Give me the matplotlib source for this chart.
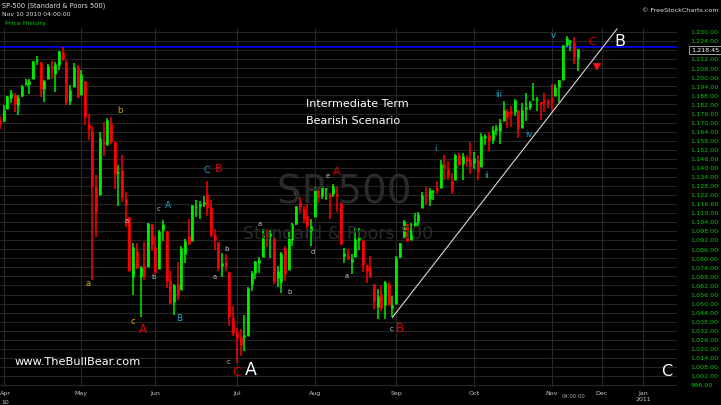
import matplotlib
matplotlib.use('Agg')
import matplotlib.pyplot as plt
import numpy as np

plt.rcParams['font.family'] = ['DejaVu Sans']

# ---------------- data (S&P 500 daily, Mar 31 - Nov 10 2010) ----------------
month_days = {
    'Mar': [31],
    'Apr': [1, 5, 6, 7, 8, 9, 12, 13, 14, 15, 16, 19, 20, 21, 22, 23, 26, 27, 28, 29, 30],
    'May': [3, 4, 5, 6, 7, 10, 11, 12, 13, 14, 17, 18, 19, 20, 21, 24, 25, 26, 27, 28],
    'Jun': [1, 2, 3, 4, 7, 8, 9, 10, 11, 14, 15, 16, 17, 18, 21, 22, 23, 24, 25, 28, 29, 30],
    'Jul': [1, 2, 6, 7, 8, 9, 12, 13, 14, 15, 16, 19, 20, 21, 22, 23, 26, 27, 28, 29, 30],
    'Aug': [2, 3, 4, 5, 6, 9, 10, 11, 12, 13, 16, 17, 18, 19, 20, 23, 24, 25, 26, 27, 30, 31],
    'Sep': [1, 2, 3, 7, 8, 9, 10, 13, 14, 15, 16, 17, 20, 21, 22, 23, 24, 27, 28, 29, 30],
    'Oct': [1, 4, 5, 6, 7, 8, 11, 12, 13, 14, 15, 18, 19, 20, 21, 22, 25, 26, 27, 28, 29],
    'Nov': [1, 2, 3, 4, 5, 8, 9, 10],
}
dates = [f'{m} {d}' for m, ds in month_days.items() for d in ds]

opens = [1171.8,
         1171.2, 1178.7, 1186.0, 1188.2, 1181.8, 1187.5, 1194.9, 1195.9, 1198.7, 1210.8, 1210.2,
         1192.1, 1199.0, 1207.2, 1202.5, 1207.9, 1217.1, 1209.9, 1184.6, 1193.3, 1206.8,
         1188.6, 1197.5, 1169.2, 1164.4, 1127.0, 1122.3, 1156.4, 1155.4, 1170.0, 1157.2,
         1136.5, 1138.8, 1119.6, 1107.3, 1067.3, 1084.8, 1067.4, 1075.5, 1074.3, 1102.6,
         1087.3, 1073.0, 1098.8, 1098.4, 1065.8, 1050.8, 1062.8, 1058.8, 1082.7, 1095.0, 1091.2,
         1114.0, 1115.0, 1116.2, 1122.8, 1113.9, 1095.6, 1090.9, 1075.1, 1077.5, 1071.1, 1040.6,
         1031.1, 1027.7, 1028.1, 1028.5, 1062.9, 1070.5, 1077.2, 1080.6, 1095.6, 1094.5, 1093.9,
         1066.8, 1064.5, 1086.7, 1072.1, 1092.2, 1102.9, 1117.4, 1112.8, 1108.1, 1098.4,
         1107.5, 1125.3, 1121.1, 1125.8, 1122.1, 1122.8, 1122.9, 1116.9, 1081.5, 1082.2, 1077.5,
         1081.2, 1092.1, 1092.4, 1075.6, 1073.4, 1063.2, 1048.0, 1056.3, 1049.3, 1062.9, 1046.9,
         1049.7, 1080.7, 1093.6, 1102.6, 1092.4, 1101.2, 1104.6, 1113.4, 1121.2, 1119.4, 1123.9,
         1126.4, 1126.6, 1142.8, 1139.5, 1131.1, 1131.7, 1148.6, 1142.3, 1146.8, 1145.9,
         1143.5, 1145.0, 1140.7, 1159.8, 1161.6, 1158.4, 1165.3, 1164.3, 1171.3, 1177.8, 1177.5,
         1176.8, 1178.6, 1166.7, 1179.1, 1180.5, 1184.7, 1184.9, 1183.8, 1184.5, 1183.9,
         1185.7, 1187.9, 1193.8, 1198.3, 1221.2, 1223.2, 1223.6, 1213.1]
highs = [1174.6,
         1181.4, 1187.7, 1191.8, 1189.6, 1188.6, 1194.7, 1199.2, 1199.0, 1210.7, 1213.9, 1210.2,
         1197.9, 1208.6, 1210.9, 1210.3, 1217.3, 1219.8, 1211.4, 1195.0, 1209.4, 1207.9,
         1205.1, 1197.5, 1175.9, 1167.6, 1135.1, 1163.9, 1170.5, 1172.9, 1173.6, 1157.2,
         1141.9, 1148.7, 1124.3, 1107.3, 1090.2, 1089.9, 1074.8, 1090.8, 1103.5, 1102.6,
         1094.8, 1098.6, 1105.7, 1098.4, 1071.4, 1063.2, 1077.7, 1087.9, 1092.6, 1105.9, 1115.6,
         1118.7, 1117.7, 1121.0, 1131.2, 1118.5, 1099.6, 1090.9, 1083.6, 1082.6, 1071.1, 1048.1,
         1033.6, 1032.9, 1042.5, 1060.9, 1071.3, 1078.2, 1080.8, 1099.5, 1099.1, 1098.7, 1093.9,
         1074.7, 1083.9, 1088.5, 1097.5, 1103.7, 1115.0, 1120.9, 1114.7, 1115.9, 1106.4,
         1127.3, 1125.4, 1128.8, 1126.6, 1123.1, 1129.2, 1127.2, 1116.9, 1086.7, 1086.3, 1082.6,
         1100.1, 1099.8, 1092.4, 1075.6, 1081.6, 1063.2, 1059.4, 1061.5, 1065.2, 1064.4, 1055.1,
         1081.3, 1090.1, 1105.1, 1102.6, 1103.3, 1110.3, 1110.9, 1123.9, 1127.4, 1126.5, 1125.4,
         1131.5, 1144.9, 1148.6, 1144.4, 1136.8, 1148.9, 1149.9, 1150.0, 1148.6, 1157.2,
         1150.3, 1148.2, 1162.8, 1162.3, 1163.9, 1167.7, 1168.7, 1172.6, 1184.4, 1178.9, 1181.2,
         1185.5, 1178.6, 1182.9, 1189.4, 1184.0, 1196.1, 1187.1, 1183.8, 1189.5, 1185.5,
         1195.8, 1195.9, 1198.3, 1221.3, 1227.1, 1224.6, 1226.8, 1218.8]
lows = [1165.8,
        1170.7, 1178.7, 1182.8, 1177.3, 1175.1, 1187.2, 1194.7, 1188.8, 1198.7, 1208.5, 1186.8,
        1183.7, 1199.0, 1198.9, 1190.2, 1205.1, 1211.1, 1181.6, 1181.8, 1193.3, 1186.3,
        1188.6, 1168.1, 1158.2, 1065.8, 1094.2, 1122.3, 1147.7, 1155.4, 1156.1, 1126.1,
        1114.6, 1117.2, 1100.7, 1071.6, 1055.9, 1072.7, 1040.8, 1065.6, 1074.3, 1084.8,
        1069.9, 1072.9, 1091.8, 1060.5, 1049.9, 1042.2, 1052.3, 1058.8, 1077.1, 1089.0, 1091.2,
        1107.1, 1105.9, 1113.9, 1108.2, 1094.2, 1085.3, 1071.6, 1067.9, 1071.5, 1035.2, 1028.3,
        1010.9, 1015.0, 1018.4, 1028.5, 1058.2, 1066.6, 1070.5, 1080.6, 1087.7, 1080.5, 1063.3,
        1061.1, 1056.9, 1065.3, 1072.1, 1087.9, 1101.8, 1109.8, 1103.1, 1092.8, 1088.0,
        1107.5, 1116.8, 1119.5, 1118.8, 1106.3, 1120.9, 1111.0, 1088.6, 1076.7, 1079.0, 1069.5,
        1081.2, 1085.8, 1070.7, 1063.9, 1067.1, 1046.7, 1039.8, 1045.4, 1039.7, 1048.8, 1040.9,
        1049.7, 1080.4, 1093.6, 1091.2, 1092.4, 1101.2, 1101.7, 1113.4, 1115.6, 1114.6, 1118.9,
        1122.4, 1126.6, 1131.9, 1131.6, 1122.8, 1131.7, 1142.0, 1132.1, 1140.3, 1136.1,
        1139.4, 1131.9, 1140.7, 1154.9, 1151.4, 1155.6, 1162.0, 1155.7, 1171.3, 1166.7, 1167.1,
        1174.6, 1159.7, 1166.7, 1171.2, 1178.6, 1184.7, 1177.7, 1171.7, 1177.1, 1179.7,
        1177.7, 1187.9, 1183.6, 1198.3, 1220.3, 1217.6, 1208.9, 1204.3]
closes = [1169.4,
          1178.1, 1187.4, 1189.4, 1182.4, 1186.4, 1194.4, 1196.5, 1197.3, 1210.7, 1211.7, 1192.1,
          1197.5, 1207.2, 1205.9, 1208.7, 1217.3, 1212.1, 1183.7, 1191.4, 1206.8, 1186.7,
          1202.3, 1173.6, 1165.9, 1128.2, 1110.9, 1159.7, 1155.8, 1171.7, 1157.4, 1135.7,
          1136.9, 1120.8, 1115.1, 1071.6, 1087.7, 1073.7, 1074.0, 1068.0, 1103.1, 1089.4,
          1070.7, 1098.4, 1102.8, 1064.9, 1050.5, 1062.0, 1055.7, 1086.8, 1091.6, 1089.6, 1115.2,
          1114.6, 1116.0, 1117.5, 1113.2, 1095.3, 1092.0, 1073.7, 1076.8, 1074.6, 1041.2, 1030.7,
          1027.4, 1022.6, 1028.1, 1060.3, 1070.3, 1078.0, 1078.8, 1095.3, 1095.2, 1096.5, 1064.9,
          1071.3, 1083.5, 1069.6, 1093.7, 1102.7, 1115.0, 1113.8, 1106.1, 1101.5, 1101.6,
          1125.9, 1120.5, 1127.2, 1125.8, 1121.6, 1127.8, 1121.1, 1089.5, 1083.6, 1079.3, 1079.4,
          1092.5, 1094.2, 1075.6, 1071.7, 1067.4, 1051.9, 1055.3, 1047.2, 1064.6, 1048.9, 1049.3,
          1080.3, 1090.1, 1104.5, 1091.8, 1098.9, 1104.2, 1109.6, 1121.9, 1121.1, 1125.1, 1124.7,
          1125.6, 1142.7, 1139.8, 1134.3, 1124.8, 1148.7, 1142.2, 1147.7, 1144.7, 1141.2,
          1146.2, 1137.0, 1160.8, 1160.0, 1158.1, 1165.2, 1165.3, 1169.8, 1178.1, 1173.8, 1176.2,
          1184.7, 1165.9, 1178.2, 1180.3, 1183.1, 1185.6, 1185.6, 1182.5, 1183.8, 1183.3,
          1184.4, 1193.6, 1198.0, 1221.1, 1225.9, 1223.3, 1213.4, 1218.5]

last_price = 1218.45
resistance = 1219.8            # April high (blue line)
trend_start_date = 'Aug 31'
trend_end = (165.6, 1232.1)    # projected end of the trend line
future_month_idx = [161.5, 172.6]

# wave labels: (text, bar index, price, color, size)
labels = [
    ('b', 31.4, 1177.7, '#c8b000', 6.0), ('a', 22.8, 1063.6, '#c8b000', 6.0),
    ('c', 35.0, 1037.8, '#c8b000', 6.0), ('A', 37.7, 1032.5, '#e00000', 8.5),
    ('a', 33.3, 1104.8, '#c8c8c8', 4.8), ('c', 41.7, 1112.7, '#c8c8c8', 4.8),
    ('A', 44.4, 1114.7, '#1aa8c8', 6.5), ('b', 40.6, 1067.6, '#c8c8c8', 4.8),
    ('B', 47.4, 1040.4, '#1aa8c8', 6.5), ('C', 54.9, 1137.9, '#1aa8c8', 6.5),
    ('B', 58.2, 1139.2, '#e00000', 8.0), ('b', 60.1, 1086.2, '#c8c8c8', 4.8),
    ('a', 57.1, 1067.6, '#c8c8c8', 4.8), ('c', 60.6, 1011.3, '#c8c8c8', 4.8),
    ('C', 62.8, 1004.6, '#e00000', 9.0), ('A', 66.8, 1006.0, '#ffffff', 12.5),
    ('a', 69.2, 1102.8, '#c8c8c8', 4.8), ('b', 77.1, 1057.7, '#c8c8c8', 4.8),
    ('c', 78.7, 1123.3, '#c8c8c8', 4.8), ('d', 83.5, 1084.2, '#c8c8c8', 4.8),
    ('e', 87.6, 1134.6, '#c8c8c8', 4.8), ('A', 90.0, 1137.2, '#e00000', 8.0),
    ('a', 92.7, 1068.3, '#c8c8c8', 4.8), ('c', 104.6, 1033.1, '#c8c8c8', 4.8),
    ('B', 107.0, 1033.8, '#e00000', 8.5), ('i', 116.7, 1152.5, '#1aa8c8', 6.0),
    ('ii', 130.5, 1134.6, '#1aa8c8', 6.0), ('iii', 133.7, 1188.3, '#1aa8c8', 6.0),
    ('iv', 141.8, 1162.4, '#1aa8c8', 6.0), ('v', 148.3, 1227.4, '#1aa8c8', 6.0),
    ('C', 158.8, 1223.5, '#e00000', 8.0), ('B', 166.4, 1223.5, '#ffffff', 11.5),
    ('C', 179.1, 1005.3, '#ffffff', 11.5),
]

# ---------------- figure ----------------
W, H = 721, 405
fig = plt.figure(figsize=(W / 100, H / 100), dpi=100, facecolor='black')
ax_l, ax_r, ax_t, ax_b = 0, 677, 28, 387
ax = fig.add_axes([ax_l / W, 1 - ax_b / H, (ax_r - ax_l) / W, (ax_b - ax_t) / H])
ax.set_facecolor('black')
for s in ax.spines.values():
    s.set_visible(False)

x = np.arange(len(dates)) - 1
o = np.array(opens); h = np.array(highs); l = np.array(lows); c = np.array(closes)
ax.set_xlim(-0.945, 181.8)
ax.set_ylim(994.7, 1232.7)

# watermark
fig.text(344 / W, 1 - 192 / H, 'SP 500', color='#2a2a2a', fontsize=28, ha='center', va='center', zorder=0)
fig.text(338 / W, 1 - 234 / H, 'Standard & Poors 500', color='#2a2a2a', fontsize=12.5,
         ha='center', va='center', zorder=0)

# grid
yt = np.arange(996, 1231, 6)
ax.set_yticks(yt)
ax.set_yticklabels([f'{v:,.2f}' for v in yt])
month_first = []
month_names = []
for i, d in enumerate(dates):
    m = d.split()[0]
    if m != 'Mar' and (i == 0 or dates[i - 1].split()[0] != m):
        month_first.append(x[i]); month_names.append(m)
xt = month_first + future_month_idx
xl = [''] + month_names[1:] + ['Dec', 'Jan\n2011']
ax.set_xticks(xt)
ax.set_xticklabels(xl)
ax.grid(True, color='#262626', lw=0.8, zorder=0)
ax.set_axisbelow(True)
ax.yaxis.tick_right()
ax.tick_params(axis='y', length=0, pad=9.5, labelsize=4.6, labelcolor='#00cc00')
ax.tick_params(axis='x', length=0, pad=3, labelsize=4.5, labelcolor='#c8c8c8')
for t in ax.get_xticklabels():
    t.set_linespacing(1.25)
fig.text(0 / W, 1 - 394 / H, 'Apr', color='#c8c8c8', fontsize=4.5, ha='left', va='center')
fig.text(1 / W, 1 - 402 / H, '10', color='#c8c8c8', fontsize=4.5, ha='left', va='center')
fig.text(573 / W, 1 - 397 / H, '04:00:00', color='#aaaaaa', fontsize=3.8, ha='center', va='center')

# resistance line
ax.axhline(resistance, color='#0000dd', lw=1.3, zorder=2)

# price bars
cols = np.where(c >= o, '#00f000', '#ff0000')
ax.vlines(x, l, h, colors=cols, lw=1.1, zorder=3)
bot = np.minimum(o, c); top = np.maximum(o, c)
top = np.where(top - bot < 1.0, bot + 1.0, top)
ax.vlines(x, bot, top, colors=cols, lw=1.9, zorder=3)

# trend line
si = dates.index(trend_start_date)
ax.plot([x[si], trend_end[0]], [lows[si], trend_end[1]], color='#d8d8d8', lw=0.8, zorder=4)

# wave labels
for txt, xi, yi, col, fs in labels:
    ax.text(xi, yi, txt, color=col, fontsize=fs, ha='center', va='center', zorder=5)

# red arrow
ax.annotate('', xy=(160.2, 1202.5), xytext=(160.2, 1211.0),
            arrowprops=dict(arrowstyle='simple,head_width=0.6,head_length=0.55,tail_width=0.3',
                            color='#ff1010', lw=0))

ax.text(81.6, 1182.3, 'Intermediate Term', color='white', fontsize=8, ha='left', va='center', zorder=5)
ax.text(81.6, 1171.1, 'Bearish Scenario', color='white', fontsize=8, ha='left', va='center', zorder=5)
ax.text(3.1, 1011.3, 'www.TheBullBear.com', color='white', fontsize=8.2, ha='left', va='center', zorder=5)

# header
fig.text(2 / W, 1 - 6 / H, 'SP-500 (Standard & Poors 500)', color='#e0e0e0', fontsize=4.8, ha='left', va='center')
fig.text(2 / W, 1 - 14.5 / H, 'Nov 10 2010 04:00:00', color='#e0e0e0', fontsize=4.4, ha='left', va='center')
fig.text(5 / W, 1 - 24 / H, 'Price History', color='#00cc00', fontsize=4.6, ha='left', va='center')
fig.text(719 / W, 1 - 10 / H, '© FreeStockCharts.com', color='#e0e0e0', fontsize=4.6, ha='right', va='center')

# last price box
fig.text(691 / W, 1 - 50 / H, f'{last_price:,.2f}', color='white', fontsize=4.6, ha='left', va='center',
         bbox=dict(boxstyle='square,pad=0.25', fc='black', ec='#bbbbbb', lw=0.6))

fig.savefig('out.png', dpi=100, facecolor='black')
